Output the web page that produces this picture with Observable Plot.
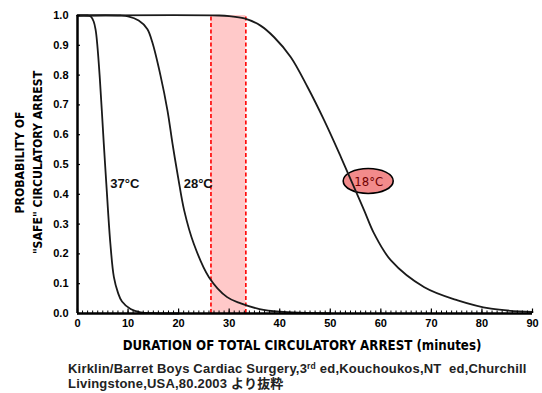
<!DOCTYPE html>
<html>
<head>
<meta charset="utf-8">
<script src="https://cdn.jsdelivr.net/npm/d3@7"></script>
<script src="https://cdn.jsdelivr.net/npm/@observablehq/plot@0.6"></script>
<style>
  html, body { margin: 0; padding: 0; background: #fff; }
  #chart svg { display: block; }
  #caption { margin: 0; padding: 2px 0 0 68px; }
  #caption div {
    font-family: "Liberation Sans", Arial, "Noto Sans CJK JP", sans-serif;
    font-weight: bold; font-size: 13px; line-height: 14.6px; height: 14.6px; color: #222;
    letter-spacing: 0.2px; white-space: nowrap;
  }
  #caption sup { font-size: 8.5px; line-height: 0; vertical-align: 4px; }
</style>
</head>
<body>
<div id="chart"></div>
<div id="caption"><div>Kirklin/Barret Boys Cardiac Surgery,3<sup>rd</sup> ed,Kouchoukos,NT&nbsp; ed,Churchill</div><div>Livingstone,USA,80.2003 より抜粋</div></div>
<script>
// Curve data (minutes, probability)
const t37 = [0, 2, 2.6, 3.2, 3.6, 3.9, 4.4, 5.2, 5.7, 6.5, 7.2, 8.0, 8.8, 10.5, 12.5, 15, 20];
const p37 = [1, 1, 0.997, 0.98, 0.95, 0.905, 0.793, 0.57, 0.436, 0.235, 0.122, 0.07, 0.04, 0.015, 0.004, 0.001, 0];
const t28 = [0, 8.5, 10, 12.1, 13.8, 14.8, 16.4, 17.8, 18.8, 19.9, 21.1, 23.0, 26.0, 29.6, 32.3, 36, 40, 50];
const p28 = [1, 1, 0.997, 0.983, 0.955, 0.91, 0.8, 0.681, 0.569, 0.457, 0.346, 0.234, 0.122, 0.055, 0.034, 0.015, 0.006, 0];
const t18 = [0, 28, 30, 33, 36.2, 38.9, 42.2, 45.5, 48.8, 52.1, 54.7, 56.7, 58.7, 62, 68.6, 75.2, 81.8, 90];
const p18 = [1, 1, 0.998, 0.99, 0.966, 0.927, 0.86, 0.76, 0.648, 0.525, 0.424, 0.346, 0.267, 0.178, 0.088, 0.044, 0.016, 0.005];

// Highlighted band (minutes)
const bandStart = [26.4];
const bandEnd = [33.3];

// Curve labels
const labelText = ["37°C", "28°C"];
const labelX = [6.5, 21];
const labelY = [0.436, 0.436];

// Highlighted label
const hiText = ["18°C"];
const hiX = [57.6];
const hiY = [0.443];

// Ticks
const xTicks = [0, 10, 20, 30, 40, 50, 60, 70, 80, 90];
const xMinor = d3.range(0, 91, 1);
const yTicks = [0, 0.1, 0.2, 0.3, 0.4, 0.5, 0.6, 0.7, 0.8, 0.9, 1.0];

const xLabel = "DURATION OF TOTAL CIRCULATORY ARREST (minutes)";
const yLabel = "PROBABILITY OF\n\"SAFE\" CIRCULATORY ARREST";

const toRows = (t, p) => t.map((x, i) => ({x, y: p[i]}));
const curves = [toRows(t37, p37), toRows(t28, p28), toRows(t18, p18)];
const band = bandStart.map((s, i) => ({x1: s, x2: bandEnd[i]}));
const labels = labelText.map((s, i) => ({s, x: labelX[i], y: labelY[i]}));
const hi = hiText.map((s, i) => ({s, x: hiX[i], y: hiY[i]}));

const axisFont = {fontFamily: "Liberation Sans, Arial, sans-serif", fontWeight: "bold", fontSize: 11};
const condFont = "DejaVu Sans Condensed, DejaVu Sans, sans-serif";

const ellipseMark = (index, scales) => {
  const g = d3.create("svg:g");
  hi.forEach(d => {
    g.append("ellipse")
      .attr("cx", scales.x(d.x)).attr("cy", scales.y(d.y))
      .attr("rx", 25).attr("ry", 12.5)
      .attr("fill", "#f28b8b").attr("stroke", "#000").attr("stroke-width", 1.6);
  });
  return g.node();
};

const chart = Plot.plot({
  width: 542,
  height: 360,
  marginLeft: 77,
  marginRight: 10,
  marginTop: 15,
  marginBottom: 47,
  x: {domain: [0, 90]},
  y: {domain: [0, 1]},
  style: {background: "#fff", color: "#000"},
  marks: [
    Plot.rectX(band, {x1: "x1", x2: "x2", y1: 0, y2: 1, fill: "#ffc9c9"}),
    Plot.ruleX(band, {x: "x1", y1: 0, y2: 1, stroke: "#f00", strokeWidth: 1.6, strokeDasharray: "4,2.5"}),
    Plot.ruleX(band, {x: "x2", y1: 0, y2: 1, stroke: "#f00", strokeWidth: 1.6, strokeDasharray: "4,2.5"}),
    ellipseMark,
    ...curves.map(c => Plot.line(c, {x: "x", y: "y", curve: "catmull-rom", stroke: "#1a1a1a", strokeWidth: 1.8})),
    Plot.ruleX([0], {y1: 0, y2: 1, stroke: "#000", strokeWidth: 2.5}),
    Plot.ruleY([0], {x1: 0, x2: 90, stroke: "#000", strokeWidth: 2.5}),
    Plot.axisX({ticks: xMinor, tickSize: -2.5, tickFormat: () => "", strokeWidth: 1}),
    Plot.axisX({ticks: xTicks, tickSize: -4.5, tickPadding: 10, tickFormat: d3.format("d"), label: null, strokeWidth: 1.2, ...axisFont}),
    Plot.axisY({ticks: yTicks, tickSize: -3, tickPadding: 12, tickFormat: d3.format(".1f"), label: null, strokeWidth: 1.2, ...axisFont}),
    Plot.text(labels, {x: "x", y: "y", text: "s", textAnchor: "start", fontFamily: "Liberation Sans, Arial, sans-serif", fontWeight: "bold", fontSize: 13, fill: "#111"}),
    Plot.text(hi, {x: "x", y: "y", text: "s", fontFamily: condFont, fontWeight: "normal", fontSize: 13, fill: "#700000"}),
    Plot.text([xLabel], {frameAnchor: "bottom", dy: 36, dx: -3, textAnchor: "middle", fontFamily: condFont, fontWeight: "bold", fontSize: 13.2, fill: "#000"}),
    Plot.text([yLabel], {frameAnchor: "left", dx: -50, dy: -2, textAnchor: "middle", rotate: -90, lineHeight: 1.45, fontFamily: condFont, fontWeight: "bold", fontSize: 12.2, fill: "#000"})
  ]
});
document.getElementById("chart").append(chart);
</script>
</body>
</html>
